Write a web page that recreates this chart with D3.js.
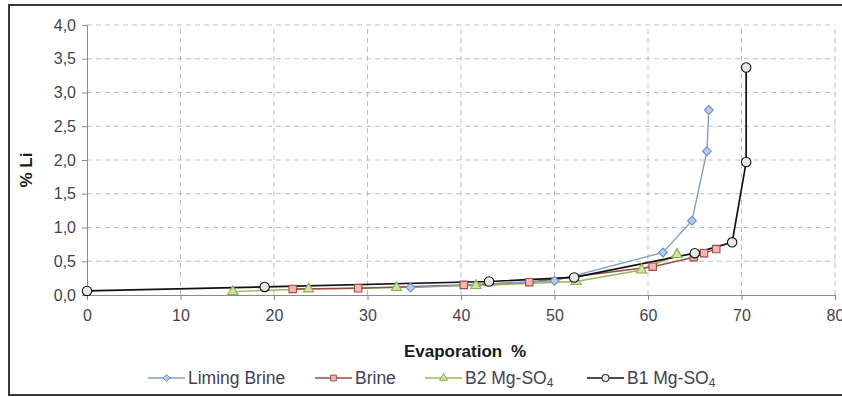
<!DOCTYPE html>
<html><head><meta charset="utf-8">
<script src="https://cdn.jsdelivr.net/npm/d3@7"></script>
<style>body{margin:0;background:#fff;}svg{display:block;font-family:Arial,"Liberation Sans",sans-serif;}</style>
</head><body>
<svg id="c" width="842" height="397"></svg>
<script>
const seriesNames = ["Liming Brine", "Brine", "B2 Mg-SO4", "B1 Mg-SO4"];
const limingX = [34.6, 50.0, 61.6, 64.7, 66.3, 66.5];
const limingY = [0.11, 0.21, 0.63, 1.10, 2.13, 2.74];
const brineX = [22.0, 29.0, 40.3, 47.3, 60.5, 64.9, 66.0, 67.3];
const brineY = [0.09, 0.10, 0.15, 0.19, 0.42, 0.56, 0.62, 0.68];
const b2X = [15.6, 23.7, 33.1, 41.6, 52.3, 59.3, 63.1];
const b2Y = [0.05, 0.09, 0.11, 0.14, 0.20, 0.37, 0.60];
const b1X = [0, 19.0, 43.0, 52.1, 65.0, 69.0, 70.5, 70.5];
const b1Y = [0.06, 0.12, 0.20, 0.26, 0.62, 0.78, 1.97, 3.37];
const xTicks = [0, 10, 20, 30, 40, 50, 60, 70, 80];
const yTicks = [0, 0.5, 1, 1.5, 2, 2.5, 3, 3.5, 4];

const svg = d3.select("#c");
const x = d3.scaleLinear().domain([0, 80]).range([87, 835]);
const y = d3.scaleLinear().domain([0, 4]).range([295, 25]);

// frame
svg.append("rect").attr("x", 9).attr("y", 5).attr("width", 845).attr("height", 390)
  .attr("fill", "none").attr("stroke", "#3a3a3a").attr("stroke-width", 2);

// grid
const g = svg.append("g");
g.selectAll(".hg").data(yTicks.filter(d => d > 0)).enter().append("line")
  .attr("x1", x(0)).attr("x2", x(80)).attr("y1", d => y(d)).attr("y2", d => y(d))
  .attr("stroke", "#bdbdbd").attr("stroke-dasharray", "5,4");
g.selectAll(".vg").data(xTicks.filter(d => d > 0)).enter().append("line")
  .attr("y1", y(0)).attr("y2", y(4)).attr("x1", d => x(d)).attr("x2", d => x(d))
  .attr("stroke", "#bdbdbd").attr("stroke-dasharray", "5,4");

const fmt = d => d3.format(".1f")(d).replace(".", ",");
const yAxis = svg.append("g").attr("transform", `translate(${x(0)},0)`)
  .call(d3.axisLeft(y).tickValues(yTicks).tickFormat(fmt).tickSize(5).tickPadding(6));
const xAxis = svg.append("g").attr("transform", `translate(0,${y(0)})`)
  .call(d3.axisBottom(x).tickValues(xTicks).tickFormat(d3.format("d")).tickSize(5).tickPadding(10));
[yAxis, xAxis].forEach(a => {
  a.select(".domain").attr("stroke", "#8a8a8a");
  a.selectAll(".tick line").attr("stroke", "#8a8a8a");
  a.selectAll("text").attr("font-size", 16).attr("fill", "#453f52").attr("font-family", "Arial, 'Liberation Sans', sans-serif");
});

// titles
svg.append("text").attr("x", 465).attr("y", 357).attr("text-anchor", "middle")
  .attr("font-size", 17).attr("font-weight", "bold").attr("fill", "#1a1a1a").attr("word-spacing", 4).text("Evaporation %");
svg.append("text").attr("transform", "translate(32,170) rotate(-90)").attr("text-anchor", "middle")
  .attr("font-size", 17).attr("font-weight", "bold").attr("fill", "#1a1a1a").text("% Li");

const styles = [
  {line: "#7f9fd0", fill: "#b4cdec", stroke: "#6e90c4", shape: d3.symbolDiamond2, size: 50, w: 1.4},
  {line: "#9a4a48", fill: "#f4b8b0", stroke: "#a04a48", shape: d3.symbolSquare, size: 55, w: 1.5},
  {line: "#98b860", fill: "#cde3a6", stroke: "#8aad50", shape: d3.symbolTriangle, size: 45, w: 1.5},
  {line: "#111111", fill: "#e8e8e8", stroke: "#111111", shape: d3.symbolCircle, size: 70, w: 1.7}
];
const data = [
  limingX.map((v, i) => [v, limingY[i]]),
  brineX.map((v, i) => [v, brineY[i]]),
  b2X.map((v, i) => [v, b2Y[i]]),
  b1X.map((v, i) => [v, b1Y[i]])
];
const line = d3.line().x(d => x(d[0])).y(d => y(d[1]));
const order = [2, 1, 0, 3];
order.forEach(k => {
  const s = styles[k];
  svg.append("path").datum(data[k]).attr("d", line).attr("fill", "none")
    .attr("stroke", s.line).attr("stroke-width", s.w);
});
order.forEach(k => {
  const s = styles[k];
  svg.append("g").selectAll("path").data(data[k]).enter().append("path")
    .attr("transform", d => `translate(${x(d[0])},${y(d[1])})`)
    .attr("d", d3.symbol().type(s.shape).size(s.size))
    .attr("fill", s.fill).attr("stroke", s.stroke).attr("stroke-width", 1.1);
});

// legend
const legX = [148, 315, 425, 587];
const legY = 378;
seriesNames.forEach((n, k) => {
  const s = styles[k];
  const lg = svg.append("g").attr("transform", `translate(${legX[k]},${legY})`);
  lg.append("line").attr("x1", 0).attr("x2", 37).attr("y1", 0).attr("y2", 0)
    .attr("stroke", s.line).attr("stroke-width", s.w);
  lg.append("path").attr("transform", "translate(18.5,0)")
    .attr("d", d3.symbol().type(s.shape).size(s.size * 0.6))
    .attr("fill", s.fill).attr("stroke", s.stroke).attr("stroke-width", 1);
  const t = lg.append("text").attr("x", 40).attr("y", 6).attr("font-size", 17.5).attr("fill", "#453f52");
  if (n.endsWith("SO4")) {
    t.append("tspan").text(n.slice(0, -1));
    t.append("tspan").attr("font-size", 12).attr("dy", 3).text("4");
  } else t.text(n);
});
</script>
</body></html>
